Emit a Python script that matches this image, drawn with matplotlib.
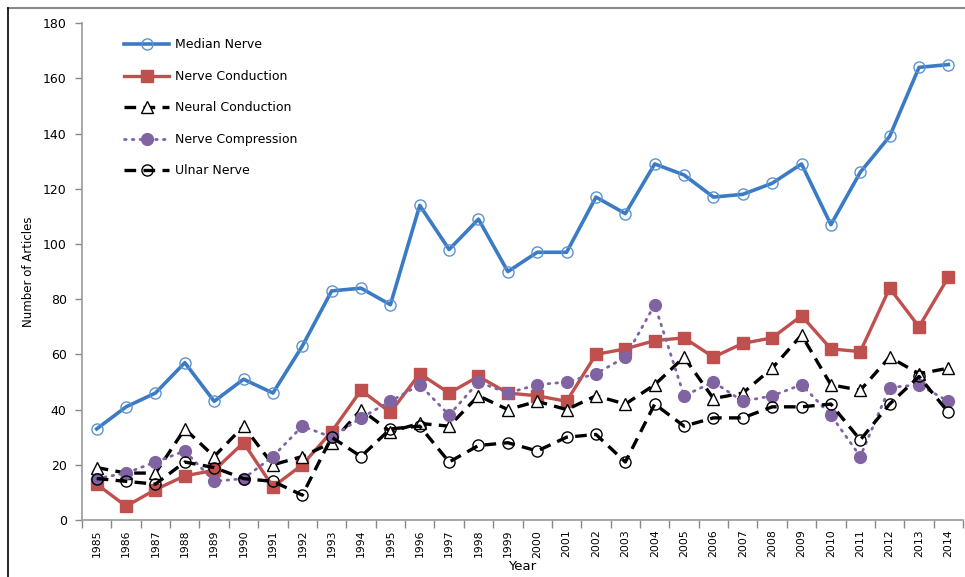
import numpy as np
import matplotlib.pyplot as plt
from matplotlib.lines import Line2D

years = list(range(1985, 2015))

median_nerve = [33, 41, 46, 57, 43, 51, 46, 63, 83, 84, 78, 114, 98, 109, 90,
                97, 97, 117, 111, 129, 125, 117, 118, 122, 129, 107, 126, 139, 164, 165]
nerve_conduction = [13, 5, 11, 16, 18, 28, 12, 20, 32, 47, 39, 53, 46, 52, 46,
                    45, 43, 60, 62, 65, 66, 59, 64, 66, 74, 62, 61, 84, 70, 88]
neural_conduction = [19, 17, 17, 33, 23, 34, 20, 23, 28, 40, 32, 35, 34, 45, 40,
                     43, 40, 45, 42, 49, 59, 44, 46, 55, 67, 49, 47, 59, 53, 55]
nerve_compression = [15, 17, 21, 25, 14, 15, 23, 34, 30, 37, 43, 49, 38, 50, 46,
                     49, 50, 53, 59, 78, 45, 50, 43, 45, 49, 38, 23, 48, 49, 43]
ulnar_nerve = [15, 14, 13, 21, 19, 15, 14, 9, 30, 23, 33, 34, 21, 27, 28,
               25, 30, 31, 21, 42, 34, 37, 37, 41, 41, 42, 29, 42, 52, 39]

BLUE = "#3B7BC4"
RED = "#C0504D"
PURPLE = "#8064A2"

fig = plt.figure(figsize=(9.65, 5.77), dpi=100)
ax = fig.add_axes([0.085, 0.0988, 0.913, 0.861])

x = np.arange(len(years))

ax.plot(x, median_nerve, color=BLUE, lw=2.6, marker="o", ms=8,
        mfc="none", mec="#5B93D3", mew=1.0, label="Median Nerve")
ax.plot(x, nerve_conduction, color=RED, lw=2.4, marker="s", ms=8.5,
        mfc=RED, mec=RED, label="Nerve Conduction")
ax.plot(x, neural_conduction, color="black", lw=2.4, ls=(0, (3.5, 2.2)), marker="^",
        ms=9, mfc="white", mec="black", mew=1.0, label="Neural Conduction")
ax.plot(x, nerve_compression, color=PURPLE, lw=2.0, ls=(0, (0.6, 2.2)),
        dash_capstyle="round", marker="o", ms=8.5, mfc=PURPLE, mec=PURPLE,
        label="Nerve Compression")
ax.plot(x, ulnar_nerve, color="black", lw=2.4, ls=(0, (3.5, 2.2)), marker="o",
        ms=8, mfc="none", mec="black", mew=1.0, label="Ulnar Nerve")

ax.set_xlim(-0.5, len(years) - 0.5)
ax.set_ylim(0, 180)
ax.set_yticks(range(0, 181, 20))

ax.set_xticks(x)
ax.set_xticklabels([str(y) for y in years], rotation=90, fontsize=7.8)
ax.set_xticks(np.arange(-0.5, len(years)), minor=True)
ax.tick_params(axis="x", which="major", length=0, pad=7)
ax.tick_params(axis="x", which="minor", length=6, color="#888888", width=1)
ax.tick_params(axis="y", length=5, color="#888888", width=1, labelsize=9, pad=6)

for side in ["top", "right"]:
    ax.spines[side].set_visible(False)
for side in ["left", "bottom"]:
    ax.spines[side].set_color("#999999")
    ax.spines[side].set_linewidth(1.2)

ax.set_ylabel("Number of Articles", fontsize=8.5, labelpad=6)
ax.set_xlabel("Year", fontsize=9.5, labelpad=2)

ax.legend(loc="upper left", bbox_to_anchor=(0.041, 0.982), frameon=False,
          fontsize=9, handlelength=3.6, handletextpad=0.45, labelspacing=1.48,
          borderpad=0)

# figure border (top and left edges visible in the reference)
fig.add_artist(Line2D([0.008, 1.0], [0.986, 0.986], transform=fig.transFigure,
                      color="#888888", lw=1.5))
fig.add_artist(Line2D([0.008, 0.008], [0.0, 0.986], transform=fig.transFigure,
                      color="black", lw=1.2))

fig.savefig("out.png", dpi=100)
